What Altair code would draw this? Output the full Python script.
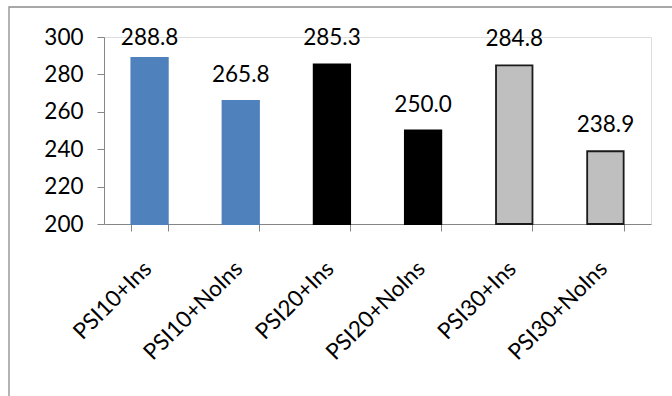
import altair as alt
import pandas as pd

# Mean values per treatment group
categories = ["PSI10+Ins", "PSI10+NoIns", "PSI20+Ins", "PSI20+NoIns", "PSI30+Ins", "PSI30+NoIns"]
values = [288.8, 265.8, 285.3, 250.0, 284.8, 238.9]
groups = ["PSI10", "PSI10", "PSI20", "PSI20", "PSI30", "PSI30"]
y_ticks = [200, 220, 240, 260, 280, 300]

group_names = ["PSI10", "PSI20", "PSI30"]
group_fill = ["#4F81BD", "#000000", "#BFBFBF"]
group_stroke = ["#4F81BD", "#000000", "#1A1A1A"]

df = pd.DataFrame({"category": categories, "value": values, "group": groups})

FONT = "Lato"
FONT_SIZE = 22.5
AXIS_GRAY = "#868686"

x_axis = alt.Axis(
    labelAngle=-45,
    labelFont=FONT,
    labelFontSize=FONT_SIZE,
    labelColor="#000000",
    labelOverlap=False,
    tickBand="extent",
    tickSize=7,
    tickColor=AXIS_GRAY,
    domainColor=AXIS_GRAY,
    labelPadding=26,
    labelOffset=-10,
)
y_axis = alt.Axis(
    values=y_ticks,
    grid=False,
    labelOverlap=False,
    labelFont=FONT,
    labelFontSize=FONT_SIZE,
    labelColor="#000000",
    tickSize=7,
    tickColor=AXIS_GRAY,
    domainColor=AXIS_GRAY,
    labelPadding=14,
)

x_scale = alt.Scale(paddingInner=0.6, paddingOuter=0.3)
y_scale = alt.Scale(domain=[200, 300], zero=False, nice=False)

base = alt.Chart(df)

bars = base.mark_bar(strokeWidth=1.8).encode(
    x=alt.X("category:N", sort=categories, title=None, scale=x_scale, axis=x_axis),
    y=alt.Y("value:Q", scale=y_scale, title=None, axis=y_axis),
    y2=alt.datum(200),
    color=alt.Color("group:N", scale=alt.Scale(domain=group_names, range=group_fill), legend=None),
    stroke=alt.Stroke("group:N", scale=alt.Scale(domain=group_names, range=group_stroke), legend=None),
)

# Value labels sit above each bar, kept inside the plot area near the top
labels = base.transform_calculate(
    label_pos="min(datum.value, 285.5)"
).mark_text(font=FONT, fontSize=FONT_SIZE, color="#000000", dy=-19, baseline="alphabetic").encode(
    x=alt.X("category:N", sort=categories, title=None, scale=x_scale, axis=x_axis),
    y=alt.Y("label_pos:Q", scale=y_scale, title=None, axis=y_axis),
    text=alt.Text("value:Q", format=".1f"),
)

# Outer chart frame
frame = alt.Chart(alt.Data(values=[{"f": 1}])).mark_rect(
    fill=None, stroke="#8C8C8C", strokeWidth=1.3
).encode(
    x=alt.value(-95),
    x2=alt.value(700),
    y=alt.value(-30),
    y2=alt.value(400),
)

chart = alt.layer(frame, bars, labels).properties(
    width=547,
    height=187,
    autosize=alt.AutoSizeParams(type="none"),
    padding={"left": 104, "top": 37, "right": 21, "bottom": 172},
).configure_view(stroke=None).configure(background="#FFFFFF")

chart.save("out.html", embed_options={"renderer": "svg", "actions": False})
